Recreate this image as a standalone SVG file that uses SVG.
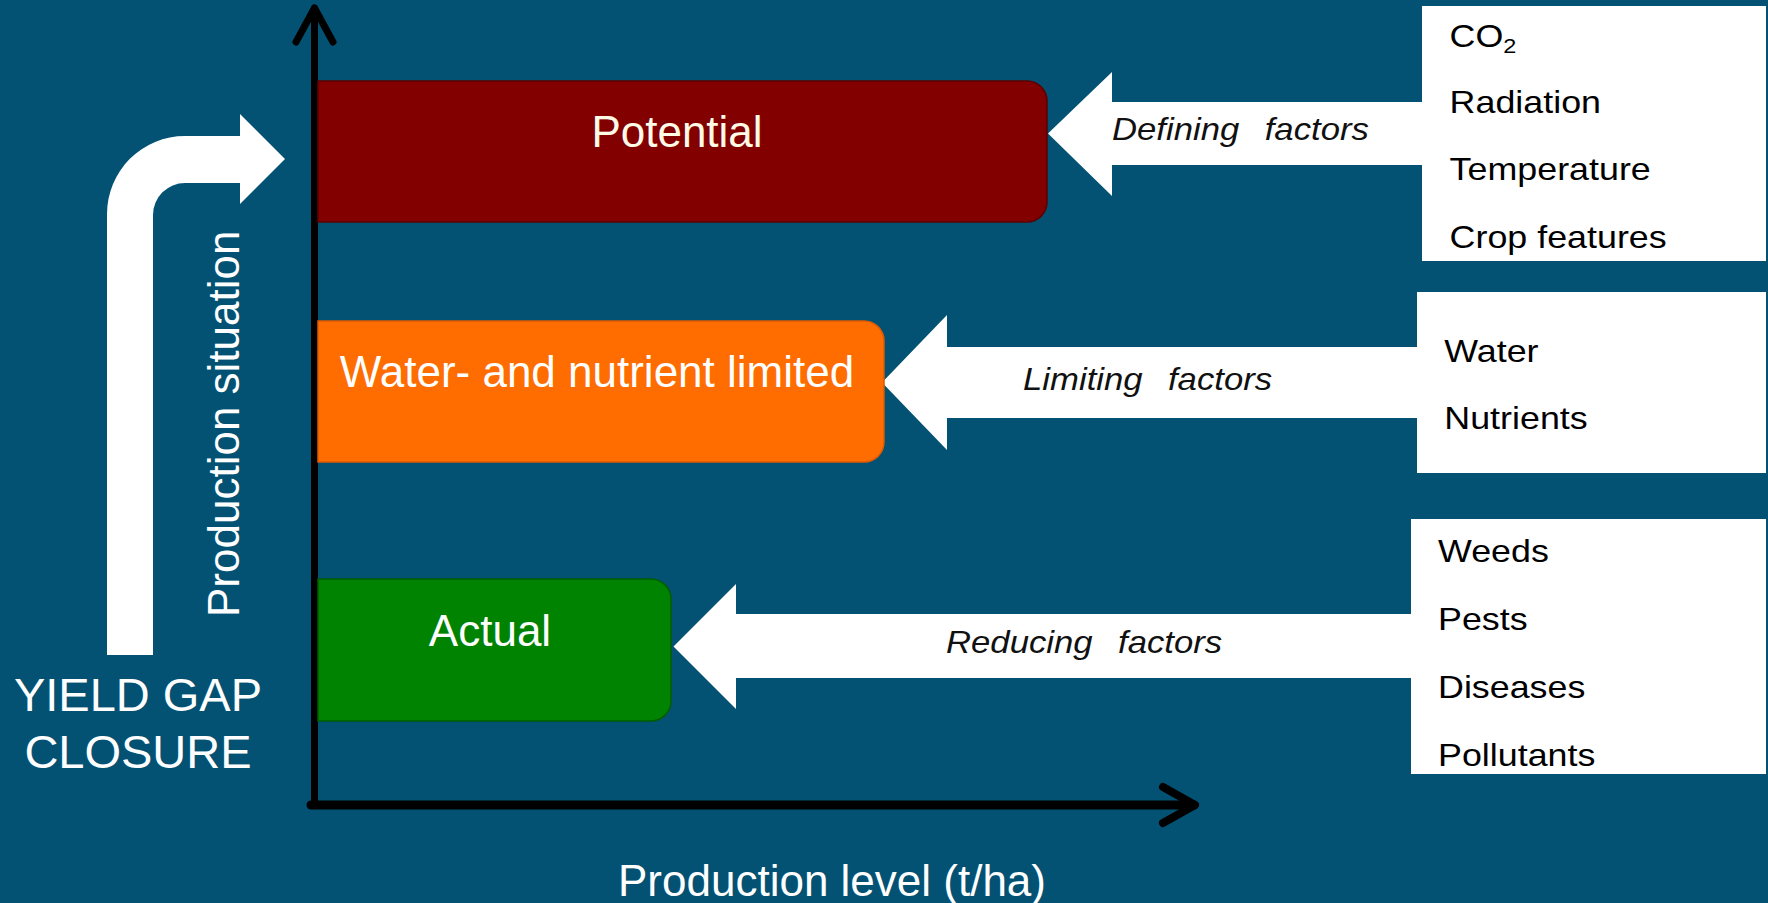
<svg xmlns="http://www.w3.org/2000/svg" width="1768" height="903" viewBox="0 0 1768 903">
<style>
.bg{fill:#035273}
.lbl{font-family:"Liberation Sans",Arial,sans-serif;font-size:44px;fill:#ffffff}
.fac{font-family:"Liberation Sans",Arial,sans-serif;font-size:32px;fill:#000000}
.ital{font-family:"Liberation Sans",Arial,sans-serif;font-size:31px;font-style:italic;fill:#111111;word-spacing:14px}
.axis{fill:none;stroke:#000000;stroke-linecap:round;stroke-linejoin:round}
.warrow{fill:#ffffff}
.fbox{fill:#ffffff}
</style>
<rect class="bg" x="0" y="0" width="1768" height="903"/>

<g id="connectors">
  <path id="yield-gap-arrow" class="warrow" d="M107,655 V214 A78,78 0 0 1 185,136 H240 V114 L285,159 L240,204 V183 H185 A32,32 0 0 0 153,215 V655 Z"/>
  <path id="defining-arrow" class="warrow" d="M1424,102 H1112 V72 L1048,133.5 L1112,196 V165 H1424 Z"/>
  <path id="limiting-arrow" class="warrow" d="M1419,347 H947 V315 L882,382.5 L947,450 V418 H1419 Z"/>
  <path id="reducing-arrow" class="warrow" d="M1413,614 H736 V584 L673.5,646.5 L736,709 V678 H1413 Z"/>
  <g id="axes">
    <line class="axis" x1="314.5" y1="805" x2="314.5" y2="8" stroke-width="7"/>
    <polyline class="axis" points="296,42 314.5,8 333,42" stroke-width="7"/>
    <line class="axis" x1="311" y1="805" x2="1194" y2="805" stroke-width="9"/>
    <polyline class="axis" points="1163,787 1195,805 1163,823" stroke-width="8"/>
  </g>
</g>

<g id="node-potential">
  <path d="M318,81 H1027 A20,20 0 0 1 1047,101 V202 A20,20 0 0 1 1027,222 H318 Z" fill="#820000" stroke="#5c0000" stroke-width="1.5"/>
  <text class="lbl" x="677" y="147" text-anchor="middle" style="fill:#fffbe6">Potential</text>
</g>

<g id="node-water-nutrient">
  <path d="M318,321 H864 A20,20 0 0 1 884,341 V442 A20,20 0 0 1 864,462 H318 Z" fill="#ff6c00" stroke="#e05a00" stroke-width="1.5"/>
  <text class="lbl" x="597" y="387" text-anchor="middle">Water- and nutrient limited</text>
</g>

<g id="node-actual">
  <path d="M318,579 H651 A20,20 0 0 1 671,599 V701 A20,20 0 0 1 651,721 H318 Z" fill="#008300" stroke="#005c00" stroke-width="1.5"/>
  <text class="lbl" x="490" y="646" text-anchor="middle">Actual</text>
</g>

<g id="label-defining">
  <text class="ital" transform="translate(1112,140) scale(1.12,1)">Defining factors</text>
</g>
<g id="label-limiting">
  <text class="ital" transform="translate(1023,390) scale(1.12,1)">Limiting factors</text>
</g>
<g id="label-reducing">
  <text class="ital" transform="translate(946,653) scale(1.12,1)">Reducing factors</text>
</g>

<g id="node-defining-factors">
  <rect class="fbox" x="1422" y="6" width="344" height="255"/>
  <g transform="translate(1449.6,0) scale(1.12,1)">
    <text class="fac" x="0" y="47">CO<tspan font-size="21" dy="6">2</tspan></text>
    <text class="fac" x="0" y="113">Radiation</text>
    <text class="fac" x="0" y="180">Temperature</text>
    <text class="fac" x="0" y="248">Crop features</text>
  </g>
</g>

<g id="node-limiting-factors">
  <rect class="fbox" x="1417" y="292" width="349" height="181"/>
  <g transform="translate(1444.3,0) scale(1.12,1)">
    <text class="fac" x="0" y="362">Water</text>
    <text class="fac" x="0" y="429">Nutrients</text>
  </g>
</g>

<g id="node-reducing-factors">
  <rect class="fbox" x="1411" y="519" width="355" height="255"/>
  <g transform="translate(1438,0) scale(1.12,1)">
    <text class="fac" x="0" y="562">Weeds</text>
    <text class="fac" x="0" y="630">Pests</text>
    <text class="fac" x="0" y="698">Diseases</text>
    <text class="fac" x="0" y="766">Pollutants</text>
  </g>
</g>

<g id="axis-labels">
  <text class="lbl" transform="translate(239,617) rotate(-90)">Production situation</text>
  <text class="lbl" x="618" y="896">Production level (t/ha)</text>
</g>

<g id="yield-gap-label">
  <text class="lbl" x="138" y="711" text-anchor="middle" font-size="47" style="font-size:47px">YIELD GAP</text>
  <text class="lbl" x="138" y="768" text-anchor="middle" style="font-size:47px">CLOSURE</text>
</g>
</svg>
